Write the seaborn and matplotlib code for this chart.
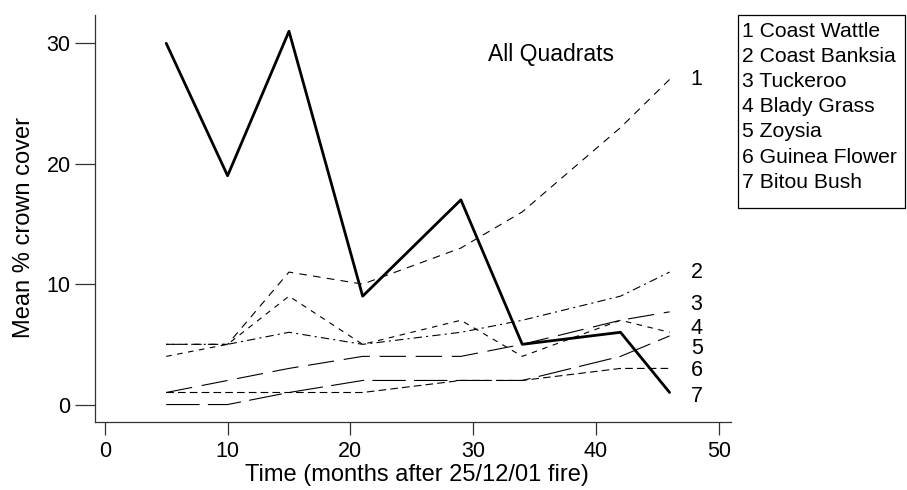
import numpy as np
import pandas as pd
import seaborn as sns
import matplotlib.pyplot as plt
from matplotlib.patches import Rectangle

# months after the fire
months = [5, 10, 15, 21, 29, 34, 42, 46]

species = ["Coast Wattle", "Coast Banksia", "Tuckeroo", "Blady Grass",
           "Zoysia", "Guinea Flower", "Bitou Bush"]

coast_wattle = [5, 5, 11, 10, 13, 16, 23, 27]
coast_banksia = [5, 5, 6, 5, 6, 7, 9, 11]
tuckeroo = [1, 2, 3, 4, 4, 5, 7, 7.7]
blady_grass = [4, 5, 9, 5, 7, 4, 7, 6]
zoysia = [0, 0, 1, 2, 2, 2, 4, 5.7]
guinea_flower = [1, 1, 1, 1, 2, 2, 3, 3]
bitou_bush = [30, 19, 31, 9, 17, 5, 6, 1]

cover = [coast_wattle, coast_banksia, tuckeroo, blady_grass,
         zoysia, guinea_flower, bitou_bush]

# where the number tags at the right end sit
tag_y = [27, 11, 8.3, 6.35, 4.65, 2.8, 0.7]

rows = []
for name, vals in zip(species, cover):
    for m, v in zip(months, vals):
        rows.append({"month": m, "cover": v, "species": name})
df = pd.DataFrame(rows)

sns.set_style("ticks")
plt.rcParams["font.family"] = ["Liberation Sans", "DejaVu Sans"]
plt.rcParams["lines.scale_dashes"] = False
plt.rcParams["text.color"] = "black"
plt.rcParams["axes.labelcolor"] = "black"
plt.rcParams["xtick.color"] = "black"
plt.rcParams["ytick.color"] = "black"

dash_map = {
    "Coast Wattle": (5.5, 4.5),
    "Coast Banksia": (1.5, 3, 6, 3),
    "Tuckeroo": (19, 7),
    "Blady Grass": (4, 4),
    "Zoysia": (24, 6),
    "Guinea Flower": (5.5, 3),
    "Bitou Bush": "",
}
width_map = {s: 0.8 for s in species}
width_map["Bitou Bush"] = 2.0

fig = plt.figure(figsize=(9.07, 4.9), dpi=100)
ax = fig.add_axes([95 / 907, 1 - 422 / 490, 636 / 907, 407 / 490])

sns.lineplot(data=df, x="month", y="cover", style="species", size="species",
             dashes=dash_map, sizes=width_map, style_order=species,
             size_order=species, color="black", legend=False, ax=ax)

ax.set_xlim(-0.8, 51.0)
ax.set_ylim(-1.45, 32.35)
ax.set_xticks([0, 10, 20, 30, 40, 50])
ax.set_yticks([0, 10, 20, 30])
for s in ["top", "right"]:
    ax.spines[s].set_visible(False)
for s in ["left", "bottom"]:
    ax.spines[s].set_linewidth(0.9)
    ax.spines[s].set_color("#333333")
ax.tick_params(axis="y", length=14.5, width=0.9, color="#333333", pad=3, labelsize=15.5)
ax.tick_params(axis="x", length=9.4, width=0.9, color="#333333", pad=4, labelsize=15.5)

ax.set_xlabel("Time (months after 25/12/01 fire)", fontsize=17, va="center")
ax.xaxis.set_label_coords((417 - 95) / 636, (422 - 475) / 407)
ax.set_ylabel("Mean % crown cover", fontsize=17, va="center")
ax.yaxis.set_label_coords((24 - 95) / 636, (422 - 227) / 407)

ax.text(36.3, 29.1, "All Quadrats", fontsize=16.5, ha="center", va="center")
for i, y in enumerate(tag_y):
    ax.text(48.2, y, str(i + 1), fontsize=15.5, ha="center", va="center")

# key box on the right
fig.patches.append(Rectangle((738 / 907, 1 - 208 / 490), 167 / 907, 193 / 490,
                             transform=fig.transFigure, fill=False,
                             edgecolor="black", linewidth=0.9))
for i, name in enumerate(species):
    fig.text(742 / 907, 1 - (31.5 + 25.1 * i) / 490, f"{i + 1} {name}",
             fontsize=15.2, ha="left", va="center")

fig.savefig("out.png", dpi=100)
